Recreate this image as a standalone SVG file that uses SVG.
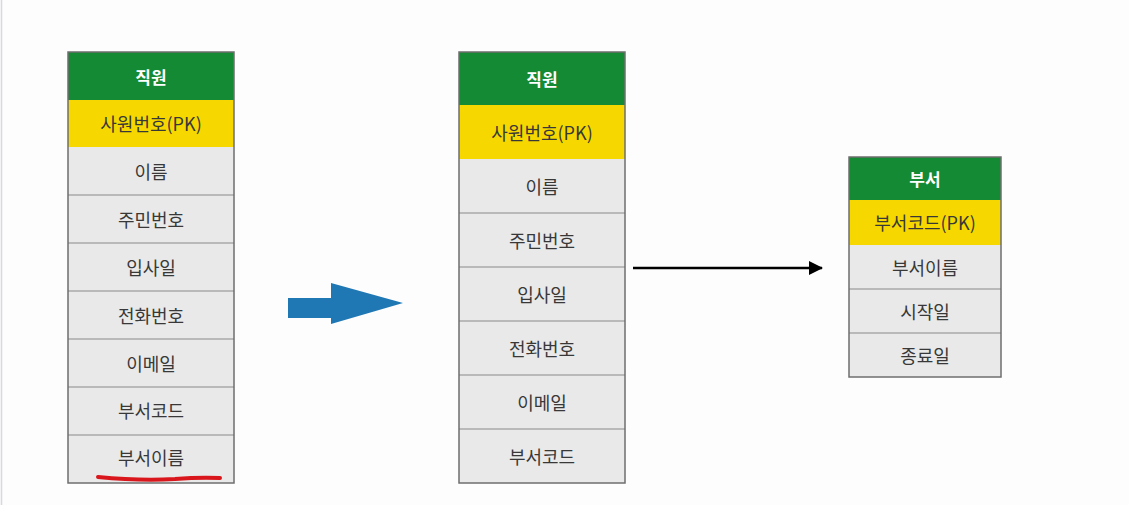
<svg xmlns="http://www.w3.org/2000/svg" width="1129" height="505" viewBox="0 0 1129 505">
<style>
.hdr{fill:#148a34}
.pk{fill:#f6d800}
.row{fill:#e9e9e9}
.sep{stroke:#a9a9a9;stroke-width:1.5}
.frame{fill:none;stroke:#6e6e6e;stroke-width:1.5}
text{font-family:"Noto Sans CJK KR","Noto Sans",sans-serif;font-size:18px;text-anchor:middle;dominant-baseline:central;fill:#383838}
.ht{fill:#fff;font-weight:bold;font-size:17px}
</style>
<defs>
<marker id="ah" markerWidth="14" markerHeight="14" refX="13" refY="7" orient="auto" markerUnits="userSpaceOnUse" viewBox="0 0 14 14">
<path d="M0,0 L14,7 L0,14 Z" fill="#000"/>
</marker>
</defs>
<rect width="1129" height="505" fill="#fdfdfd"/>
<line x1="1.5" y1="0" x2="1.5" y2="505" stroke="#d8d8de" stroke-width="1.5"/>

<g id="emp1">
<rect class="hdr" x="68" y="52" width="166" height="48"/>
<rect class="pk" x="68" y="100" width="166" height="47"/>
<rect class="row" x="68" y="147" width="166" height="336"/>
<line class="sep" x1="68" y1="195" x2="234" y2="195"/>
<line class="sep" x1="68" y1="243" x2="234" y2="243"/>
<line class="sep" x1="68" y1="291" x2="234" y2="291"/>
<line class="sep" x1="68" y1="339" x2="234" y2="339"/>
<line class="sep" x1="68" y1="387" x2="234" y2="387"/>
<line class="sep" x1="68" y1="435" x2="234" y2="435"/>
<rect class="frame" x="68" y="52" width="166" height="431"/>
<text class="ht" x="151" y="76">직원</text>
<text x="151" y="123">사원번호(PK)</text>
<text x="151" y="171">이름</text>
<text x="151" y="219">주민번호</text>
<text x="151" y="267">입사일</text>
<text x="151" y="315">전화번호</text>
<text x="151" y="363">이메일</text>
<text x="151" y="410">부서코드</text>
<text x="151" y="457">부서이름</text>
<path d="M98,477 Q140,481 175,479 Q200,477 220,478" fill="none" stroke="#d9161c" stroke-width="4" stroke-linecap="round"/>
</g>

<g id="emp2">
<rect class="hdr" x="459" y="52" width="166" height="53"/>
<rect class="pk" x="459" y="105" width="166" height="54"/>
<rect class="row" x="459" y="159" width="166" height="324"/>
<line class="sep" x1="459" y1="213" x2="625" y2="213"/>
<line class="sep" x1="459" y1="267" x2="625" y2="267"/>
<line class="sep" x1="459" y1="321" x2="625" y2="321"/>
<line class="sep" x1="459" y1="375" x2="625" y2="375"/>
<line class="sep" x1="459" y1="429" x2="625" y2="429"/>
<rect class="frame" x="459" y="52" width="166" height="431"/>
<text class="ht" x="542" y="78">직원</text>
<text x="542" y="132">사원번호(PK)</text>
<text x="542" y="186">이름</text>
<text x="542" y="240">주민번호</text>
<text x="542" y="294">입사일</text>
<text x="542" y="348">전화번호</text>
<text x="542" y="402">이메일</text>
<text x="542" y="456">부서코드</text>
</g>

<g id="dept">
<rect class="hdr" x="849" y="157" width="152" height="43"/>
<rect class="pk" x="849" y="200" width="152" height="45"/>
<rect class="row" x="849" y="245" width="152" height="132"/>
<line class="sep" x1="849" y1="289" x2="1001" y2="289"/>
<line class="sep" x1="849" y1="333" x2="1001" y2="333"/>
<rect class="frame" x="849" y="157" width="152" height="220"/>
<text class="ht" x="925" y="178">부서</text>
<text x="925" y="222">부서코드(PK)</text>
<text x="925" y="267">부서이름</text>
<text x="925" y="311">시작일</text>
<text x="925" y="355">종료일</text>
</g>

<g id="connectors">
<path d="M288,298 L331,298 L331,283 L403,303 L331,324 L331,318 L288,318 Z" fill="#1f78b4"/>
<line x1="633" y1="268" x2="822" y2="268" stroke="#000" stroke-width="2.5" marker-end="url(#ah)"/>
</g>
</svg>
